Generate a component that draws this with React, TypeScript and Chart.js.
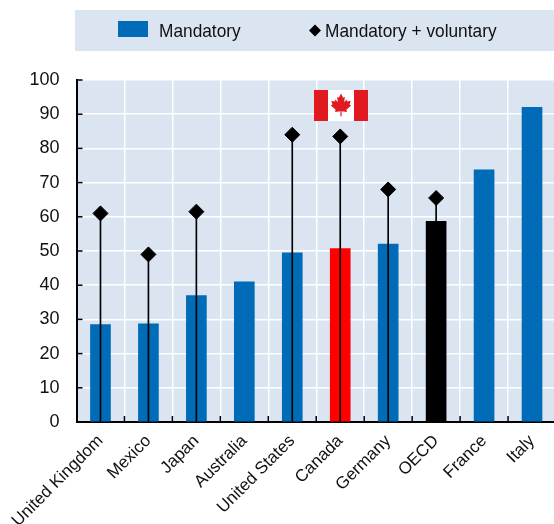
import React, { useEffect, useRef } from "react";
import { Chart, registerables } from "chart.js";

Chart.register(...registerables);

const categories = ["United Kingdom", "Mexico", "Japan", "Australia", "United States", "Canada", "Germany", "OECD", "France", "Italy"];
const mandatory = [28.5, 28.7, 37, 41, 49.5, 50.7, 52, 58.7, 73.7, 92];
const combined: (number | null)[] = [61, 49, 61.5, null, 84, 83.5, 68, 65.5, null, null];
const stems: ([number, number] | null)[] = combined.map((v) => (v === null ? null : [0, v]));
const BLUE = "#006BB6";
const barColors = categories.map((c) => (c === "Canada" ? "#FF0000" : c === "OECD" ? "#000000" : BLUE));
const legendLabels = ["Mandatory", "Mandatory + voluntary"];
const FONT = '"Liberation Sans", Arial, sans-serif';
const BG = "#DBE5F1";

const LEAF: [number, number][] = [
  [0, -10], [2, -6.5], [3.6, -7.3], [3, -2.8], [5.2, -5], [5.8, -3.4], [9, -4], [8, -0.8], [9.5, 0],
  [5, 3.6], [5.6, 5.4], [0.5, 4.8], [0.6, 9], [-0.6, 9], [-0.5, 4.8], [-5.6, 5.4], [-5, 3.6], [-9.5, 0],
  [-8, -0.8], [-9, -4], [-5.8, -3.4], [-5.2, -5], [-3, -2.8], [-3.6, -7.3], [-2, -6.5],
];

const decor = {
  id: "decor",
  beforeDraw(chart: any) {
    const { ctx, chartArea: a } = chart;
    ctx.save();
    ctx.fillStyle = "#ffffff";
    ctx.fillRect(0, 0, chart.width, chart.height);
    ctx.fillStyle = BG;
    ctx.fillRect(a.left, a.top, a.right - a.left, a.bottom - a.top);
    // legend band
    ctx.fillRect(75, 10, 481, 41);
    ctx.fillStyle = BLUE;
    ctx.fillRect(118, 21, 30, 16);
    ctx.fillStyle = "#000";
    ctx.beginPath();
    ctx.moveTo(315, 24.5);
    ctx.lineTo(321, 30.5);
    ctx.lineTo(315, 36.5);
    ctx.lineTo(309, 30.5);
    ctx.closePath();
    ctx.fill();
    ctx.fillStyle = "#111";
    ctx.font = `19px ${FONT}`;
    ctx.textBaseline = "alphabetic";
    ctx.textAlign = "left";
    const squeeze = 0.91;
    [[159, legendLabels[0]], [325, legendLabels[1]]].forEach(([x, t]: any) => {
      ctx.save();
      ctx.translate(x, 37);
      ctx.scale(squeeze, 1);
      ctx.fillText(t, 0, 0);
      ctx.restore();
    });
    ctx.restore();
  },
  afterDraw(chart: any) {
    const { ctx, chartArea: a, scales } = chart;
    ctx.save();
    ctx.strokeStyle = "#000";
    ctx.lineWidth = 1.5;
    scales.y.ticks.forEach((t: any) => {
      const y = scales.y.getPixelForValue(t.value);
      ctx.beginPath();
      ctx.moveTo(a.left, y);
      ctx.lineTo(a.left + 6, y);
      ctx.stroke();
    });
    for (let i = 1; i < categories.length; i++) {
      const x = (scales.x.getPixelForValue(i - 1) + scales.x.getPixelForValue(i)) / 2;
      ctx.beginPath();
      ctx.moveTo(x, a.bottom);
      ctx.lineTo(x, a.bottom - 6);
      ctx.stroke();
    }
    // flag above Canada
    const cx = Math.round(scales.x.getPixelForValue(categories.indexOf("Canada"))) + 1;
    const top = a.top + 10;
    ctx.fillStyle = "#ffffff";
    ctx.fillRect(cx - 27, top, 54, 31);
    ctx.fillStyle = "#E11A22";
    ctx.fillRect(cx - 27, top, 14, 31);
    ctx.fillRect(cx + 13, top, 14, 31);
    ctx.beginPath();
    LEAF.forEach(([x, y], i) => {
      const px = cx + x * 1.07;
      const py = top + 15.5 + y * 1.2;
      if (i) ctx.lineTo(px, py);
      else ctx.moveTo(px, py);
    });
    ctx.closePath();
    ctx.fill();
    ctx.restore();
  },
};

export default function App() {
  const ref = useRef<HTMLCanvasElement>(null);
  useEffect(() => {
    const chart = new Chart(ref.current!, {
      type: "bar",
      plugins: [decor],
      data: {
        labels: categories,
        datasets: [
          {
            type: "line",
            label: legendLabels[1],
            data: combined,
            showLine: false,
            pointStyle: "rectRot",
            pointRadius: 7.5,
            pointHoverRadius: 7.5,
            pointBackgroundColor: "#000",
            pointBorderColor: "#000",
            order: 0,
          },
          {
            type: "bar",
            label: "stem",
            data: stems as any,
            backgroundColor: "#000",
            barThickness: 1,
            grouped: false,
            order: 1,
          },
          {
            type: "bar",
            label: legendLabels[0],
            data: mandatory,
            backgroundColor: barColors,
            barThickness: 20,
            grouped: false,
            order: 2,
          },
        ],
      } as any,
      options: {
        animation: false,
        responsive: false,
        layout: { autoPadding: false, padding: { top: 80, right: 0, left: 0, bottom: 0 } },
        plugins: { legend: { display: false }, tooltip: { enabled: false } },
        scales: {
          x: {
            offset: true,
            afterFit: (s: any) => { s.height = 102; },
            grid: { color: "#ffffff", lineWidth: 1.5, drawTicks: false, offset: true },
            border: { color: "#000", width: 2 },
            ticks: {
              font: { family: FONT, size: 17 },
              color: "#111",
              minRotation: 45,
              maxRotation: 45,
              padding: 9,
              autoSkip: false,
            },
          },
          y: {
            min: 0,
            max: 100,
            afterFit: (s: any) => { s.width = 76.5; },
            grid: { color: "#ffffff", lineWidth: 1.5, drawTicks: false },
            border: { color: "#000", width: 2 },
            ticks: {
              stepSize: 10,
              font: { family: FONT, size: 18 },
              color: "#111",
              padding: 17,
            },
          },
        },
      },
    } as any);
    return () => chart.destroy();
  }, []);
  return (
    <div style={{ position: "absolute", left: 0, top: 0, width: 554, height: 524, overflow: "hidden" }}>
      <canvas ref={ref} width={556} height={524} style={{ display: "block" }} />
    </div>
  );
}
